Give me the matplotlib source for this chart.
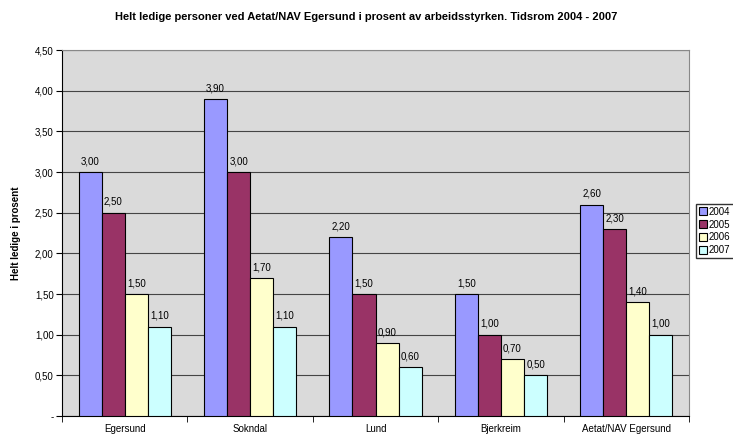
import numpy as np
import matplotlib.pyplot as plt

plt.rcParams['font.family'] = ['Liberation Sans', 'DejaVu Sans']

# Data
categories = ["Egersund", "Sokndal", "Lund", "Bjerkreim", "Aetat/NAV Egersund"]
years = ["2004", "2005", "2006", "2007"]
v2004 = [3.00, 3.90, 2.20, 1.50, 2.60]
v2005 = [2.50, 3.00, 1.50, 1.00, 2.30]
v2006 = [1.50, 1.70, 0.90, 0.70, 1.40]
v2007 = [1.10, 1.10, 0.60, 0.50, 1.00]
colors = ["#9999FF", "#993366", "#FFFFCC", "#CCFFFF"]

fig = plt.figure(figsize=(7.33, 4.38), dpi=100)
ax = fig.add_axes([0.0846, 0.0502, 0.8554, 0.8356])
ax.set_facecolor("#dadada")

x = np.arange(len(categories))
w = 0.184
series = [v2004, v2005, v2006, v2007]
for i, vals in enumerate(series):
    pos = x + (i - 1.5) * w
    bars = ax.bar(pos, vals, w, color=colors[i], edgecolor="black", linewidth=0.8,
                  label=years[i], zorder=3)
    for b, v in zip(bars, vals):
        ax.text(b.get_x() + b.get_width() / 2, v + 0.07, f"{v:.2f}".replace(".", ","),
                ha="center", va="bottom", fontsize=7, zorder=4)

ax.set_xlim(-0.5, len(categories) - 0.5)
ax.set_ylim(0, 4.5)
yt = np.arange(0, 4.51, 0.5)
ax.set_yticks(yt)
ax.set_yticklabels(["-"] + [f"{t:.2f}".replace(".", ",") for t in yt[1:]], fontsize=7)
ax.yaxis.grid(True, color="#444444", linewidth=0.8, zorder=1)
ax.set_axisbelow(True)

ax.set_xticks(x)
ax.set_xticklabels(categories, fontsize=7)
ax.set_xticks(np.arange(-0.5, len(categories)), minor=True)
ax.tick_params(axis="x", which="major", length=0, pad=6)
ax.tick_params(axis="x", which="minor", length=4, direction="out")
ax.tick_params(axis="y", length=4, direction="out", pad=2)

for s in ["left", "bottom"]:
    ax.spines[s].set_color("black")
ax.spines["top"].set_color("#888888")
ax.spines["right"].set_color("#888888")

ax.set_ylabel("Helt ledige i prosent", fontsize=7, fontweight="bold", labelpad=10)

fig.text(0.5, 0.972, "Helt ledige personer ved Aetat/NAV Egersund i prosent av arbeidsstyrken. Tidsrom 2004 - 2007",
         ha="center", va="top", fontsize=8, fontweight="bold")

fig.legend(loc="upper left", bbox_to_anchor=(0.950, 0.535), fontsize=7, frameon=True,
           fancybox=False, edgecolor="black", handlelength=0.8, handleheight=0.8,
           handletextpad=0.2, borderpad=0.3, labelspacing=0.3, borderaxespad=0)

plt.savefig("out.png", dpi=100)
